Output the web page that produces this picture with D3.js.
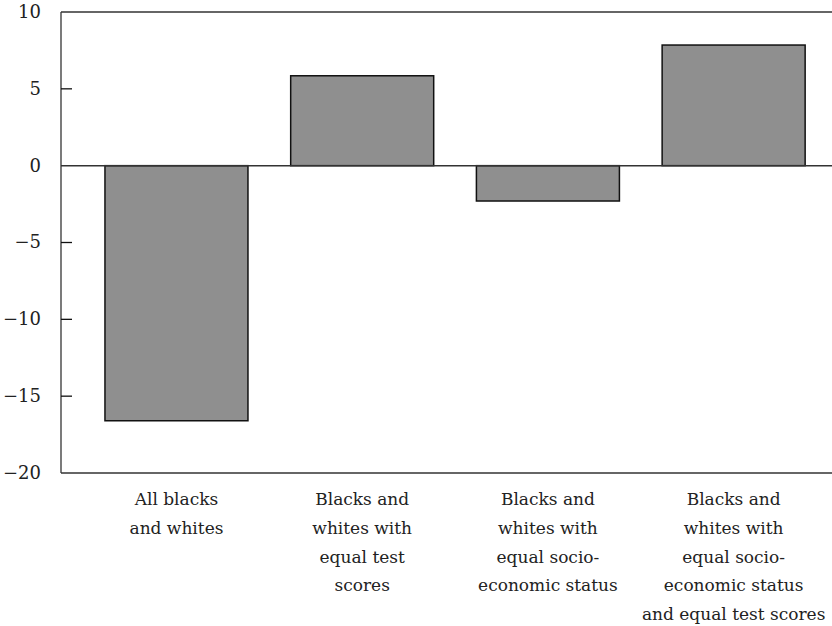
<!DOCTYPE html>
<html>
<head>
<meta charset="utf-8">
<script src="https://cdn.jsdelivr.net/npm/d3@7"></script>
<style>
  body { margin: 0; background: #fff; }
  svg { display: block; }
</style>
</head>
<body>
<svg width="832" height="626"></svg>
<script>
// categories, one label line per entry
const categories = [
    ['All blacks', 'and whites'],
    ['Blacks and', 'whites with', 'equal test', 'scores'],
    ['Blacks and', 'whites with', 'equal socio-', 'economic status'],
    ['Blacks and', 'whites with', 'equal socio-', 'economic status', 'and equal test scores']
];
const values = [-16.6, 5.85, -2.3, 7.85];
const yTicks = [10, 5, 0, -5, -10, -15, -20];

const serif = "'DejaVu Serif', serif";

const svg = d3.select('svg');
const plotLeft = 61, plotRight = 832, plotTop = 12, plotBottom = 473;

const x = d3.scaleBand()
    .domain(d3.range(categories.length))
    .range([83.6, 826.5])
    .paddingInner(0.23)
    .paddingOuter(0.115);

const y = d3.scaleLinear()
    .domain([-20, 10])
    .range([plotBottom, plotTop]);

// frame lines: top, bottom, left
svg.append('g')
    .selectAll('line')
    .data([
        [plotLeft, y(10), plotRight, y(10)],
        [plotLeft, y(-20), plotRight, y(-20)],
        [plotLeft, y(10), plotLeft, y(-20)]
    ])
    .join('line')
    .attr('x1', d => d[0]).attr('y1', d => d[1])
    .attr('x2', d => d[2]).attr('y2', d => d[3])
    .style('stroke', '#333')
    .style('stroke-width', 1.3);

// bars
svg.append('g')
    .selectAll('rect')
    .data(values)
    .join('rect')
    .attr('x', (d, i) => x(i))
    .attr('width', x.bandwidth())
    .attr('y', d => y(Math.max(0, d)))
    .attr('height', d => Math.abs(y(d) - y(0)))
    .style('fill', '#8f8f8f')
    .style('stroke', '#111')
    .style('stroke-width', 1.5);

// zero line
svg.append('line')
    .attr('x1', plotLeft).attr('x2', plotRight)
    .attr('y1', y(0)).attr('y2', y(0))
    .style('stroke', '#333')
    .style('stroke-width', 1.5);

// y axis ticks (inside) and labels
const yAxis = svg.append('g');
yAxis.selectAll('line')
    .data(yTicks.filter(d => d !== 10 && d !== 0 && d !== -20))
    .join('line')
    .attr('x1', plotLeft).attr('x2', plotLeft + 11)
    .attr('y1', d => y(d)).attr('y2', d => y(d))
    .style('stroke', '#111')
    .style('stroke-width', 1.3);

yAxis.selectAll('text')
    .data(yTicks)
    .join('text')
    .attr('x', 41)
    .attr('y', d => y(d))
    .attr('dy', '0.33em')
    .attr('text-anchor', 'end')
    .style('font-family', serif)
    .style('font-size', '18px')
    .style('fill', '#222')
    .text(d => d3.format('')(d).replace('-', '\u2212'));

// category labels
svg.append('g')
    .selectAll('text')
    .data(categories)
    .join('text')
    .attr('text-anchor', 'middle')
    .style('font-family', serif)
    .style('font-size', '17px')
    .style('fill', '#222')
    .attr('transform', (d, i) => `translate(${x(i) + x.bandwidth() / 2},505)`)
    .selectAll('tspan')
    .data(d => d)
    .join('tspan')
    .attr('x', 0)
    .attr('y', (d, i) => i * 28.8)
    .text(d => d);
</script>
</body>
</html>
